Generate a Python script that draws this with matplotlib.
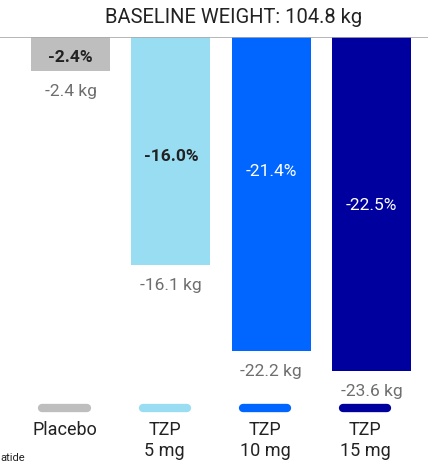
import numpy as np
import matplotlib.pyplot as plt

plt.rcParams['font.family'] = ['Roboto', 'DejaVu Sans']

groups = ['Placebo', 'TZP\n5 mg', 'TZP\n10 mg', 'TZP\n15 mg']
pct_change = [-2.4, -16.0, -21.4, -22.5]
kg_change = [-2.4, -16.1, -22.2, -23.6]
pct_label_y = [-1.35, -8.4, -9.45, -11.8]  # where the % labels sit inside the bars
colors = ['#BEBEBE', '#99DDF3', '#0066FF', '#00009E']
pct_text_colors = ['#222222', '#222222', 'white', 'white']

fig = plt.figure(figsize=(4.28, 4.64), dpi=100)
ax = fig.add_axes([0, 0.138, 1, 0.780])

x = np.arange(len(groups))
# bar lengths follow the kg change
ax.bar(x, kg_change, width=0.79, color=colors, zorder=2)
ax.axhline(0, color='#AAAAAA', lw=1.2, zorder=3)

for i in range(len(groups)):
    ax.text(x[i], pct_label_y[i], f'{pct_change[i]:.1f}%', ha='center', va='center',
            fontsize=12.5, fontweight='bold' if i < 2 else 'normal', color=pct_text_colors[i])
    ax.annotate(f'{kg_change[i]:.1f} kg', (x[i], kg_change[i]), xytext=(0, -14),
                textcoords='offset points', ha='center', va='center',
                fontsize=12.5, color='#6E6E6E')
    # legend swatch + label
    ax.plot([x[i] - 0.28, x[i] + 0.16], [-26.2, -26.2], color=colors[i], lw=6,
            solid_capstyle='round', clip_on=False)
    ax.text(x[i] - 0.06, -27.1, groups[i], ha='center', va='top', fontsize=13,
            color='#222222', linespacing=1.15, clip_on=False)

ax.set_xlim(-0.703, 3.564)
ax.set_ylim(-25.58, 0)
ax.axis('off')

fig.text(0.545, 0.962, 'BASELINE WEIGHT: 104.8 kg', ha='center', va='center',
         fontsize=14.5, color='#222222')
fig.text(0.0, 0.012, 'atide', ha='left', va='center', fontsize=8, color='#222222')

fig.savefig('out.png', dpi=100)
